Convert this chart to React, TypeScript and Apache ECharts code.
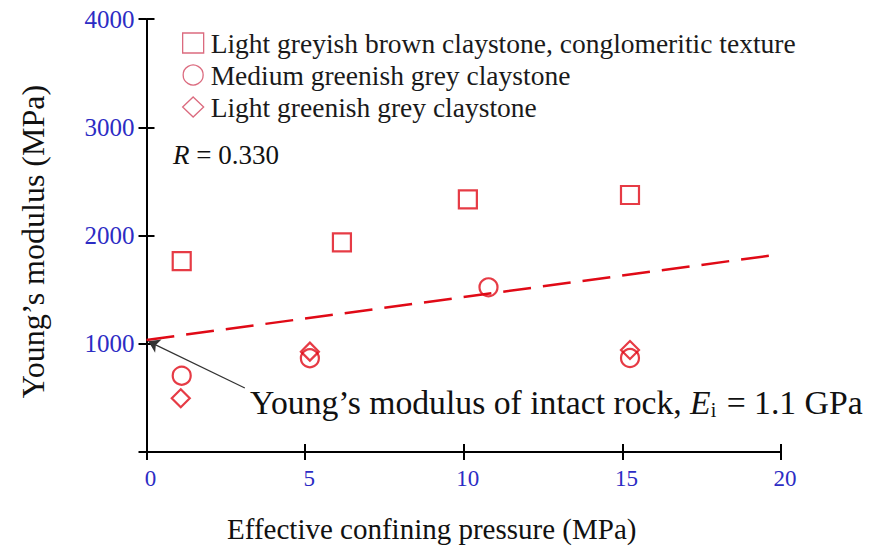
import React, { useEffect, useRef } from "react";
import * as echarts from "echarts";

// ---- data ----
const seriesNames = [
  "Light greyish brown claystone, conglomeritic texture",
  "Medium greenish grey claystone",
  "Light greenish grey claystone",
];
const brownX = [1.11, 6.16, 10.13, 15.24];
const brownY = [1764, 1937, 2334, 2374];
const mediumX = [1.11, 5.15, 10.78, 15.24];
const mediumY = [705, 866, 1521, 868];
const lightX = [1.08, 5.15, 15.24];
const lightY = [496, 927, 942];
const trendX = [0, 19.8];
const trendY = [1035, 1820];
const arrowX = [3.1, 0.06];
const arrowY = [591, 1022];
const xTicks = [0, 5, 10, 15, 20];
const yTicks = [0, 1000, 2000, 3000, 4000];

const RED = "#e00a16";
const LEG = "#d2455e";
const BLUE = "#2c2cc4";
const SERIF = "'Liberation Serif', 'Times New Roman', serif";

const zip = (xs: number[], ys: number[]) => xs.map((x, i) => [x, ys[i]]);

export default function App() {
  const ref = useRef<HTMLDivElement>(null);
  useEffect(() => {
    if (!ref.current) return;
    const chart = echarts.init(ref.current, null, { renderer: "svg" });
    const hollow = (c: string, w = 2) => ({ color: "rgba(0,0,0,0)", borderColor: c, borderWidth: w });
    const axisBase = {
      min: xTicks[0],
      max: xTicks[xTicks.length - 1],
      interval: xTicks[1] - xTicks[0],
      splitLine: { show: false },
    };
    const yBase = {
      min: yTicks[0],
      max: yTicks[yTicks.length - 1],
      interval: yTicks[1] - yTicks[0],
      splitLine: { show: false },
    };
    const option: any = {
      animation: false,
      backgroundColor: "#ffffff",
      grid: { left: 146.5, right: 89, top: 19, bottom: 100, containLabel: false },
      xAxis: [
        {
          type: "value",
          ...axisBase,
          position: "bottom",
          axisLine: { show: true, onZero: false, lineStyle: { color: "#000", width: 2 } },
          axisTick: { show: true, inside: false, length: 8, lineStyle: { color: "#000", width: 2 } },
          axisLabel: { color: BLUE, fontFamily: SERIF, fontSize: 23, margin: 15, padding: [0, 0, 0, 8] },
          name: "Effective confining pressure (MPa)",
          nameLocation: "middle",
          nameGap: 62,
          nameTextStyle: { color: "#111", fontFamily: SERIF, fontSize: 29, padding: [0, 64, 0, 0] },
        },
        {
          type: "value",
          ...axisBase,
          position: "bottom",
          axisLine: { show: false },
          axisTick: { show: true, inside: true, length: 8, lineStyle: { color: "#000", width: 2 } },
          axisLabel: { show: false },
        },
      ],
      yAxis: [
        {
          type: "value",
          ...yBase,
          position: "left",
          axisLine: { show: true, onZero: false, lineStyle: { color: "#000", width: 2 } },
          axisTick: { show: true, inside: false, length: 8, lineStyle: { color: "#000", width: 2 } },
          axisLabel: {
            color: BLUE,
            fontFamily: SERIF,
            fontSize: 25,
            margin: 12,
            formatter: (v: number) => (v === 0 ? "" : String(v)),
          },
          name: "Young\u2019s modulus (MPa)",
          nameLocation: "middle",
          nameGap: 98,
          nameTextStyle: { color: "#111", fontFamily: SERIF, fontSize: 32, padding: [0, 12, 0, 0] },
        },
        {
          type: "value",
          ...yBase,
          position: "left",
          axisLine: { show: false },
          axisTick: { show: true, inside: true, length: 8, lineStyle: { color: "#000", width: 2 } },
          axisLabel: { show: false },
        },
      ],
      legend: {
        orient: "vertical",
        left: 177,
        top: 24,
        itemWidth: 21,
        itemHeight: 20,
        itemGap: 4,
        align: "left",
        textStyle: { color: "#1a1a1a", fontFamily: SERIF, fontSize: 27.5, padding: [0, 0, 0, 2] },
        data: [
          { name: seriesNames[0], icon: "rect", itemStyle: hollow(LEG, 1.3) },
          { name: seriesNames[1], icon: "circle", itemStyle: hollow(LEG, 1.3) },
          { name: seriesNames[2], icon: "diamond", itemStyle: hollow(LEG, 1.3) },
        ],
      },
      graphic: [
        {
          type: "text",
          left: 173,
          top: 141,
          style: {
            text: "{it|R} = 0.330",
            fill: "#111",
            font: `27px ${SERIF}`,
            rich: { it: { fontStyle: "italic", fontFamily: SERIF, fontSize: 27, fill: "#111" } },
          },
        },
        {
          type: "text",
          left: 250,
          top: 385,
          style: {
            text: "Young\u2019s modulus of intact rock, {it|E}{sub|i} = 1.1 GPa",
            fill: "#111",
            font: `33.7px ${SERIF}`,
            rich: {
              it: { fontStyle: "italic", fontFamily: SERIF, fontSize: 33.7, fill: "#111" },
              sub: { fontFamily: SERIF, fontSize: 20, fill: "#111", padding: [15, 2, 0, 0] },
            },
          },
        },
      ],
      series: [
        {
          name: "trend",
          type: "line",
          data: zip(trendX, trendY),
          showSymbol: false,
          symbol: "none",
          lineStyle: { color: RED, width: 2.5, type: [28, 12] },
          z: 2,
        },
        {
          name: "arrow",
          type: "lines",
          coordinateSystem: "cartesian2d",
          data: [{ coords: zip(arrowX, arrowY) }],
          symbol: ["none", "arrow"],
          symbolSize: 11,
          lineStyle: { color: "#333", width: 1.3, opacity: 1, curveness: 0 },
          silent: true,
          z: 3,
        },
        {
          name: seriesNames[0],
          type: "scatter",
          symbol: "rect",
          symbolSize: 18,
          itemStyle: hollow(RED, 2.2),
          data: zip(brownX, brownY),
          z: 4,
        },
        {
          name: seriesNames[1],
          type: "scatter",
          symbol: "circle",
          symbolSize: 18,
          itemStyle: hollow(RED, 2.2),
          data: zip(mediumX, mediumY),
          z: 4,
        },
        {
          name: seriesNames[2],
          type: "scatter",
          symbol: "diamond",
          symbolSize: 18,
          itemStyle: hollow(RED, 2.2),
          data: zip(lightX, lightY),
          z: 4,
        },
      ],
    };
    chart.setOption(option);
    return () => chart.dispose();
  }, []);
  return (
    <div
      ref={ref}
      style={{ position: "fixed", left: 0, top: 0, width: 870, height: 552, background: "#fff" }}
    />
  );
}
